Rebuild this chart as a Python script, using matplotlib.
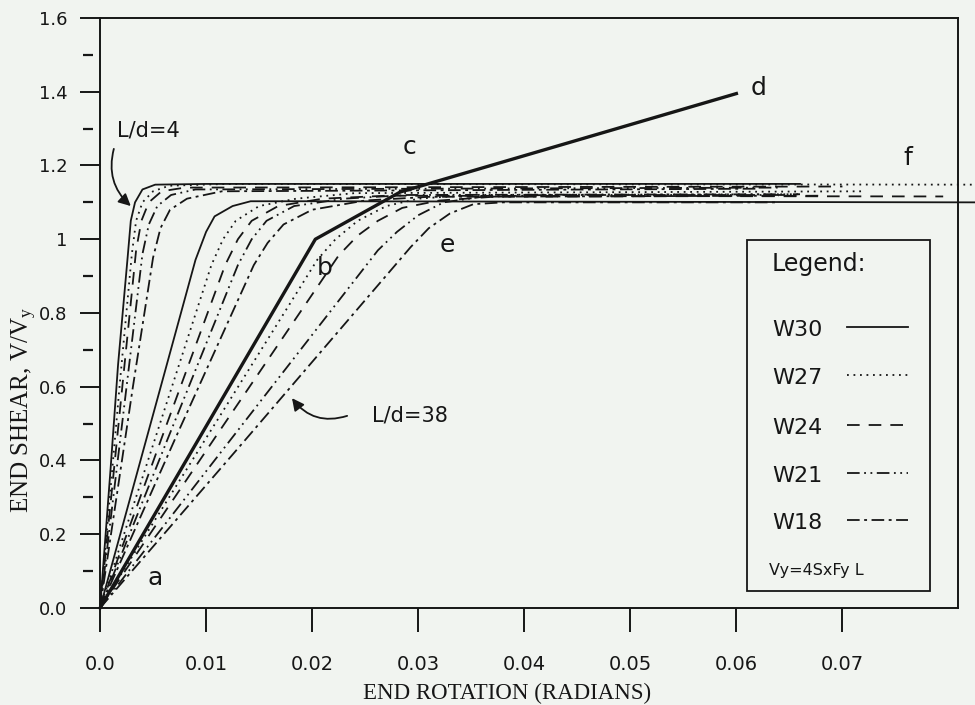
import matplotlib.pyplot as plt
from matplotlib.patches import Rectangle
import numpy as np

# (end rotation [rad], V/Vy) pairs along each curve
ld4_w30 = [(0, 0), (0.0010, 0.38), (0.0017, 0.66), (0.0026, 0.95), (0.0029, 1.05),
           (0.0033, 1.10), (0.0040, 1.135), (0.0052, 1.148), (0.010, 1.150), (0.066, 1.150)]
ld4_w27 = [(0, 0), (0.0019, 0.62), (0.0030, 0.96), (0.0034, 1.05), (0.0040, 1.10),
           (0.0050, 1.13), (0.0065, 1.145), (0.012, 1.150), (0.0825, 1.148)]
ld4_w24 = [(0, 0), (0.0021, 0.60), (0.0034, 0.97), (0.0039, 1.05), (0.0046, 1.10),
           (0.0058, 1.13), (0.0080, 1.14), (0.070, 1.143)]
ld4_w21 = [(0, 0), (0.0025, 0.60), (0.0040, 0.96), (0.0046, 1.04), (0.0054, 1.09),
           (0.0067, 1.12), (0.0090, 1.135), (0.064, 1.14)]
ld4_w18 = [(0, 0), (0.0031, 0.60), (0.0050, 0.95), (0.0057, 1.03), (0.0066, 1.08),
           (0.0082, 1.11), (0.0115, 1.13), (0.062, 1.137)]

ld15_w30 = [(0, 0), (0.0062, 0.65), (0.0090, 0.944), (0.0100, 1.02), (0.0108, 1.062),
            (0.0125, 1.09), (0.0142, 1.103), (0.020, 1.103), (0.0825, 1.100)]
ld15_w27 = [(0, 0), (0.0052, 0.46), (0.0105, 0.93), (0.0116, 1.00), (0.0128, 1.05),
            (0.0150, 1.09), (0.0185, 1.11), (0.024, 1.125), (0.072, 1.13)]
ld15_w24 = [(0, 0), (0.0058, 0.46), (0.0118, 0.93), (0.0130, 1.00), (0.0143, 1.05),
            (0.0168, 1.09), (0.0210, 1.11), (0.027, 1.118), (0.0795, 1.116)]
ld15_w21 = [(0, 0), (0.0064, 0.46), (0.0130, 0.93), (0.0143, 1.00), (0.0157, 1.05),
            (0.0183, 1.09), (0.0230, 1.11), (0.029, 1.12), (0.066, 1.122)]
ld15_w18 = [(0, 0), (0.0071, 0.46), (0.0145, 0.93), (0.0158, 0.99), (0.0173, 1.04),
            (0.0200, 1.08), (0.0250, 1.105), (0.031, 1.115), (0.064, 1.118)]

# heavy trilinear curve a-b-c-d
ld38_w30 = [(0, 0), (0.0203, 1.0), (0.0283, 1.128), (0.0600, 1.395)]
ld38_w27 = [(0, 0), (0.0099, 0.456), (0.0205, 0.945), (0.0222, 1.00), (0.0243, 1.05),
            (0.0270, 1.09), (0.0300, 1.11), (0.035, 1.12), (0.066, 1.122)]
ld38_w24 = [(0, 0), (0.0107, 0.456), (0.0225, 0.956), (0.0243, 1.01), (0.0262, 1.05),
            (0.0285, 1.085), (0.0320, 1.105), (0.037, 1.115), (0.068, 1.118)]
ld38_w21 = [(0, 0), (0.0123, 0.456), (0.0262, 0.97), (0.0280, 1.02), (0.0300, 1.065),
            (0.0324, 1.10), (0.0360, 1.115), (0.042, 1.12), (0.065, 1.12)]
ld38_w18 = [(0, 0), (0.0137, 0.456), (0.0293, 0.979), (0.0310, 1.03), (0.0330, 1.07),
            (0.0352, 1.095), (0.0380, 1.10), (0.064, 1.10)]

sections = ["W30", "W27", "W24", "W21", "W18"]
dash = {"W30": "-",
        "W27": (0, (1, 2.6)),
        "W24": (0, (7, 5)),
        "W21": (0, (7, 2.5, 1, 2.5, 1, 2.5)),
        "W18": (0, (7, 2.5, 1.6, 2.5))}

curves = [
    (ld4_w30, "W30"), (ld4_w27, "W27"), (ld4_w24, "W24"), (ld4_w21, "W21"), (ld4_w18, "W18"),
    (ld15_w30, "W30"), (ld15_w27, "W27"), (ld15_w24, "W24"), (ld15_w21, "W21"), (ld15_w18, "W18"),
    (ld38_w27, "W27"), (ld38_w24, "W24"), (ld38_w21, "W21"), (ld38_w18, "W18"),
]

ink = "#161616"
paper = "#f1f4f0"
sans = ["DejaVu Sans"]
serif = ["Liberation Serif", "DejaVu Serif"]
plt.rcParams["mathtext.fontset"] = "stix"

fig = plt.figure(figsize=(9.75, 7.05), dpi=100, facecolor=paper)
ax = fig.add_axes([0.1026, 0.1376, 0.88, 0.8369], facecolor=paper)

for pts, sec in curves:
    x, y = np.array(pts).T
    ax.plot(x, y, color=ink, lw=1.3, linestyle=dash[sec], clip_on=False)
x, y = np.array(ld38_w30).T
ax.plot(x, y, color=ink, lw=2.4, clip_on=False)

ax.set_xlim(0, 0.0809)
ax.set_ylim(0, 1.6)
for s in ax.spines.values():
    s.set_linewidth(1.4)
    s.set_color(ink)

ax.set_xticks(np.arange(0, 0.071, 0.01))
ax.set_xticklabels(["0.0", "0.01", "0.02", "0.03", "0.04", "0.05", "0.06", "0.07"])
ax.set_yticks(np.arange(0, 1.61, 0.2))
ax.set_yticklabels(["0.0", "0.2", "0.4", "0.6", "0.8", "1", "1.2", "1.4", "1.6"])
ax.tick_params(axis="x", direction="out", length=17, width=1.4, pad=17,
               labelsize=14, colors=ink)
ax.tick_params(axis="y", direction="out", length=14.5, width=1.4, pad=9,
               labelsize=13, colors=ink)

# short detached minor marks on the shear axis
minor_y = np.arange(0.1, 1.6, 0.2)
ax.hlines(minor_y, -0.0198, -0.0082, transform=ax.get_yaxis_transform(),
          color=ink, lw=1.6, clip_on=False)

ax.text(0.474, -0.144, "END ROTATION (RADIANS)", transform=ax.transAxes,
        ha="center", va="center", fontsize=16.5, family=serif, color=ink)
ax.text(-0.089, 0.335, "END SHEAR, V/V$_\\mathregular{y}$", transform=ax.transAxes,
        ha="center", va="center", rotation=90, fontsize=18, family=serif, color=ink)

# point labels on the curves
for lab, px, py in [("a", 0.0052, 0.081), ("b", 0.0212, 0.922), ("c", 0.0292, 1.25),
                    ("d", 0.0621, 1.41), ("e", 0.0327, 0.984), ("f", 0.0762, 1.22)]:
    ax.text(px, py, lab, ha="center", va="center", fontsize=18, family=sans, color=ink)

arrow = dict(arrowstyle="-|>", color=ink, lw=1.3, mutation_scale=18,
             shrinkA=0, shrinkB=0)
ax.text(0.00453, 1.296, "L/d=4", ha="center", va="center", fontsize=15,
        family=sans, color=ink)
ax.annotate("", xy=(0.0029, 1.09), xytext=(0.0013, 1.245),
            arrowprops=dict(arrow, connectionstyle="arc3,rad=0.3"))
ax.text(0.0292, 0.521, "L/d=38", ha="center", va="center", fontsize=15,
        family=sans, color=ink)
ax.annotate("", xy=(0.0181, 0.569), xytext=(0.0233, 0.521),
            arrowprops=dict(arrow, connectionstyle="arc3,rad=-0.35"))

# legend panel
ax.add_patch(Rectangle((0.754, 0.029), 0.213, 0.595, transform=ax.transAxes,
                       fill=False, edgecolor=ink, lw=1.3))
ax.text(0.783, 0.583, "Legend:", transform=ax.transAxes, ha="left", va="center",
        fontsize=17, family=sans, color=ink)
rows_y = [0.471, 0.390, 0.305, 0.224, 0.144]
for sec, ry in zip(sections, rows_y):
    ax.text(0.783, ry, sec, transform=ax.transAxes, ha="left", va="center",
            fontsize=16, family=sans, color=ink)
    ax.plot([0.8706, 0.9417], [ry + 0.005, ry + 0.005], transform=ax.transAxes,
            color=ink, lw=1.3, linestyle=dash[sec])
ax.text(0.780, 0.064, "Vy=4SxFy L", transform=ax.transAxes, ha="left", va="center",
        fontsize=11.5, family=sans, color=ink)

fig.savefig("out.png", dpi=100, facecolor=paper)
